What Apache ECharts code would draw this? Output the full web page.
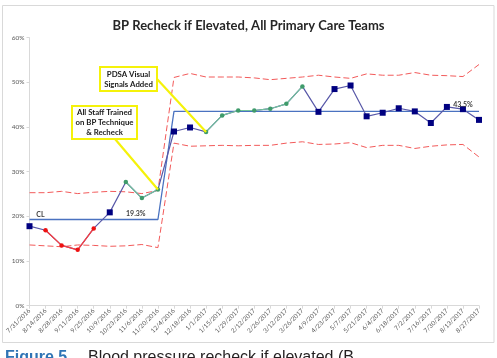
<!DOCTYPE html>
<html>
<head>
<meta charset="utf-8">
<script src="https://cdn.jsdelivr.net/npm/echarts@6/dist/echarts.min.js"></script>
<style>
  html, body { margin: 0; padding: 0; background: #ffffff; }
  #bpRecheck { width: 497px; height: 358px; }
</style>
</head>
<body>
<div id="bpRecheck"></div>
<script>
// biweekly periods
const categories = ['7/31/2016', '8/14/2016', '8/28/2016', '9/11/2016', '9/25/2016', '10/9/2016', '10/23/2016',
  '11/6/2016', '11/20/2016', '12/4/2016', '12/18/2016', '1/1/2017', '1/15/2017', '1/29/2017', '2/12/2017',
  '2/26/2017', '3/12/2017', '3/26/2017', '4/9/2017', '4/23/2017', '5/7/2017', '5/21/2017', '6/4/2017',
  '6/18/2017', '7/2/2017', '7/16/2017', '7/30/2017', '8/13/2017', '8/27/2017'];
const recheckRate = [17.8, 16.9, 13.5, 12.5, 17.3, 20.9, 27.7, 24.1, 26.0, 39.0, 39.9, 38.9, 42.6, 43.7, 43.7,
  44.1, 45.2, 49.1, 43.4, 48.5, 49.3, 42.4, 43.2, 44.2, 43.5, 40.9, 44.5, 44.0, 41.6];
const centerLine = [19.3, 19.3, 19.3, 19.3, 19.3, 19.3, 19.3, 19.3, 19.3, 43.5, 43.5, 43.5, 43.5, 43.5, 43.5,
  43.5, 43.5, 43.5, 43.5, 43.5, 43.5, 43.5, 43.5, 43.5, 43.5, 43.5, 43.5, 43.5, 43.5];
const upperLimit = [25.3, 25.3, 25.6, 25.1, 25.4, 25.6, 25.5, 25.1, 25.8, 51.1, 52.0, 51.2, 51.2, 51.2, 51.0,
  50.6, 50.9, 51.2, 51.6, 51.2, 50.9, 51.9, 51.6, 51.6, 52.2, 51.6, 51.5, 51.3, 54.0];
const lowerLimit = [13.6, 13.4, 13.2, 13.6, 13.5, 13.3, 13.4, 13.7, 13.0, 36.4, 35.7, 35.8, 35.9, 35.8, 35.9,
  35.9, 36.4, 36.7, 36.1, 36.2, 36.5, 35.4, 35.9, 35.9, 35.2, 35.7, 36.0, 36.1, 33.3];
const yTicks = [0, 10, 20, 30, 40, 50, 60];
// runs flagged by the SPC rules
const belowRun = [1, 2, 3, 4];
const trendRun = [6, 7, 8, 11, 12, 13, 14, 15, 16, 17];
const annotations = [
  {lines: ['PDSA Visual', 'Signals Added'], at: 11},
  {lines: ['All Staff Trained', 'on BP Technique', '& Recheck'], at: 8}
];

const FONT = 'Lato, "Liberation Sans", sans-serif';

function runData(idx) {
  return recheckRate.map((v, i) => idx.indexOf(i) >= 0 ? v : null);
}

let chart = echarts.init(document.getElementById('bpRecheck'), null, {width: 497, height: 358});

let option = {
  animation: false,
  textStyle: {fontFamily: FONT},
  title: {
    text: 'BP Recheck if Elevated, All Primary Care Teams',
    left: 'center',
    top: 14,
    textStyle: {fontFamily: FONT, fontSize: 13, fontWeight: 'bold', color: '#262626'}
  },
  grid: {left: 29.5, right: 18, top: 37.7, bottom: 52.3},
  xAxis: {
    type: 'category',
    data: categories,
    boundaryGap: false,
    axisLine: {lineStyle: {color: '#d9d9d9'}},
    axisTick: {show: true, length: 3, lineStyle: {color: '#d9d9d9'}},
    axisLabel: {rotate: 45, fontSize: 6.3, color: '#595959', margin: 4, interval: 0},
    splitLine: {show: false}
  },
  yAxis: {
    type: 'value',
    min: yTicks[0],
    max: yTicks[yTicks.length - 1],
    interval: 10,
    axisLine: {show: true, lineStyle: {color: '#d9d9d9'}},
    axisTick: {show: true, length: 3, lineStyle: {color: '#d9d9d9'}},
    axisLabel: {fontSize: 6.5, color: '#595959', margin: 5, formatter: '{value}%'},
    splitLine: {show: false}
  },
  series: [
    {
      name: 'UCL', type: 'line', data: upperLimit, symbol: 'none', z: 2,
      lineStyle: {color: '#f25a5a', width: 1, type: [6, 3]}
    },
    {
      name: 'LCL', type: 'line', data: lowerLimit, symbol: 'none', z: 2,
      lineStyle: {color: '#f25a5a', width: 1, type: [6, 3]}
    },
    {
      name: 'CL', type: 'line', symbol: 'none', z: 3,
      lineStyle: {color: '#4a72c0', width: 1.3},
      data: centerLine
    },
    {
      name: 'Rate', type: 'line', z: 4, showAllSymbol: true,
      lineStyle: {color: '#5858a8', width: 1.2},
      itemStyle: {color: '#000080'},
      symbol: 'rect',
      data: recheckRate.map((v, i) =>
        (belowRun.indexOf(i) >= 0 || trendRun.indexOf(i) >= 0) ? {value: v, symbolSize: 0} : {value: v, symbolSize: 6})
    },
    {
      name: 'Below', type: 'line', z: 5, data: runData(belowRun),
      symbol: 'circle', symbolSize: 4.5,
      lineStyle: {color: '#ff3b3b', width: 1.2},
      itemStyle: {color: '#ee1111'}
    },
    {
      name: 'Trend', type: 'line', z: 5, data: runData(trendRun),
      symbol: 'circle', symbolSize: 4.5,
      lineStyle: {color: '#74c39b', width: 1.2},
      itemStyle: {color: '#3f9b6b'}
    },
    {
      // centre line captions, kept on top of the points
      name: 'CL labels', type: 'line', symbol: 'circle', symbolSize: 0, showAllSymbol: true, z: 6,
      lineStyle: {width: 0, opacity: 0},
      data: centerLine.map((v, i) => {
        if (i === 0) {
          return {value: v, label: {show: true, formatter: 'CL', offset: [11, 1]}};
        }
        if (i === 6) {
          return {value: v, label: {show: true, formatter: v + '%', offset: [10, 0]}};
        }
        if (i === 27) {
          return {value: v, label: {show: true, formatter: v + '%', offset: [0, -1]}};
        }
        return v;
      }),
      label: {position: 'top', distance: 2, fontSize: 7, fontWeight: 'bold', color: '#404040', fontFamily: FONT}
    }
  ]
};

chart.setOption(option);

// callout boxes and leader lines, anchored on the data points
const boxes = [
  {x: 100, y: 67, w: 57, h: 24, from: [157, 79]},
  {x: 72, y: 106, w: 65, h: 33, from: [115, 139]}
];
const CAPTION_FONT = '"Liberation Sans", sans-serif';
let graphics = [
  {
    type: 'rect', shape: {x: 2.5, y: 5.5, width: 491.5, height: 337}, silent: true, z: 0,
    style: {fill: null, stroke: '#d9d9d9', lineWidth: 1}
  },
  {
    type: 'text', x: 5, y: 350, z: 10, silent: true,
    style: {text: 'Figure 5', fontSize: 16, fontWeight: 'bold', fill: '#2f74b5', fontFamily: CAPTION_FONT}
  },
  {
    type: 'text', x: 88, y: 350, z: 10, silent: true,
    style: {text: 'Blood pressure recheck if elevated (B', fontSize: 16, fill: '#231f20', fontFamily: CAPTION_FONT}
  }
];
annotations.forEach((a, k) => {
  const b = boxes[k];
  const p = chart.convertToPixel({gridIndex: 0}, [a.at, recheckRate[a.at]]);
  graphics.push({
    type: 'line', z: 20, silent: true,
    shape: {x1: b.from[0], y1: b.from[1], x2: p[0], y2: p[1]},
    style: {stroke: '#f5f20a', lineWidth: 2.2}
  });
  graphics.push({
    type: 'rect', z: 21, silent: true,
    shape: {x: b.x, y: b.y, width: b.w, height: b.h},
    style: {fill: '#ffffff', stroke: '#f5f20a', lineWidth: 2}
  });
  graphics.push({
    type: 'text', z: 22, silent: true,
    x: b.x + b.w / 2, y: b.y + b.h / 2,
    style: {
      text: a.lines.join('\n'), align: 'center', verticalAlign: 'middle',
      fontSize: 7.8, fontWeight: 'bold', fill: '#1a1a1a', fontFamily: FONT, lineHeight: 10
    }
  });
});
chart.setOption({graphic: graphics});
</script>
</body>
</html>
